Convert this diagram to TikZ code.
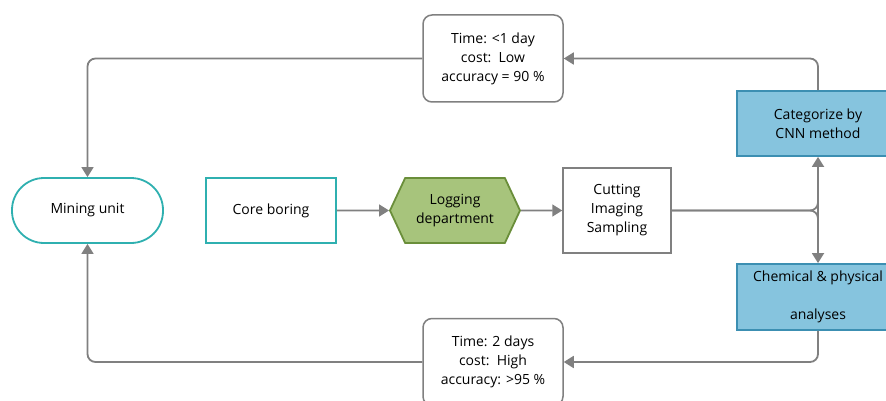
\documentclass[tikz,border=0pt]{standalone}
\usepackage{fontspec}
\setmainfont{Open Sans}
\usetikzlibrary{shapes.symbols,arrows.meta}
\definecolor{teal1}{HTML}{2FB0B0}
\definecolor{gline}{HTML}{808080}
\definecolor{gfill}{HTML}{A7C47C}
\definecolor{gdraw}{HTML}{6A8E3A}
\definecolor{bfill}{HTML}{86C4DE}
\definecolor{bdraw}{HTML}{3C8FB2}
\begin{document}
\begin{tikzpicture}[x=1pt,y=-1pt,
  every node/.style={font=\fontsize{14}{19}\selectfont, align=center, inner sep=0pt},
  tealbox/.style={draw=teal1, line width=1.8pt, fill=white},
  graybox/.style={draw=gline, line width=1.5pt, fill=white},
  bluebox/.style={draw=bdraw, line width=1.8pt, fill=bfill},
  conn/.style={draw=gline, line width=1.8pt, rounded corners=8pt, -{Triangle[length=10pt,width=12pt]}},
  plain/.style={draw=gline, line width=1.8pt, rounded corners=8pt}]
\useasboundingbox (0,0) rectangle (886,401);
\node[tealbox, rounded corners=32pt, minimum width=151pt, minimum height=65pt] (mu) at (87.5,210.5) {Mining unit};
\node[tealbox, minimum width=130pt, minimum height=65pt] (cb) at (271,210.5) {Core boring};
\node[draw=gdraw, line width=1.8pt, fill=gfill, signal, signal to=east and west, signal pointer angle=130, minimum width=130pt, minimum height=65pt] (ld) at (455,210.5) {Logging\\department};
\node[graybox, minimum width=108pt, minimum height=85pt] (cis) at (617,210.5) {Cutting\\Imaging\\Sampling};
\node[bluebox, minimum width=162pt, minimum height=65pt] (cat) at (818,123.5) {Categorize by\\CNN method};
\node[bluebox, minimum width=162pt, minimum height=66pt] (chem) at (818,297) {Chemical \& physical\\[19pt]analyses};
\node[graybox, rounded corners=9pt, minimum width=140pt, minimum height=87pt] (t1) at (493,58.5) {Time: <1 day\\cost:\ \ Low\\accuracy = 90 \%};
\node[graybox, rounded corners=9pt, minimum width=140pt, minimum height=87pt] (t2) at (493,362) {Time: 2 days\\cost:\ \ High\\accuracy: >95 \%};
\coordinate (j) at (818,210.5);
% connectors
\draw[conn] (cb) -- (ld);
\draw[conn] (ld) -- (cis);
\draw[plain] (cis.east) -- (j) -- ([yshift=-6pt]j);
\draw[conn] ([yshift=-6pt]j) -- (cat.south);
\draw[plain] (cis.east) -- (j) -- ([yshift=6pt]j);
\draw[conn] ([yshift=6pt]j) -- (chem.north);
\draw[conn] (cat.north) |- (t1.east);
\draw[conn] (chem.south) |- (t2.east);
\draw[conn] (t1.west) -| (mu.north);
\draw[conn] (t2.west) -| (mu.south);
\end{tikzpicture}
\end{document}
